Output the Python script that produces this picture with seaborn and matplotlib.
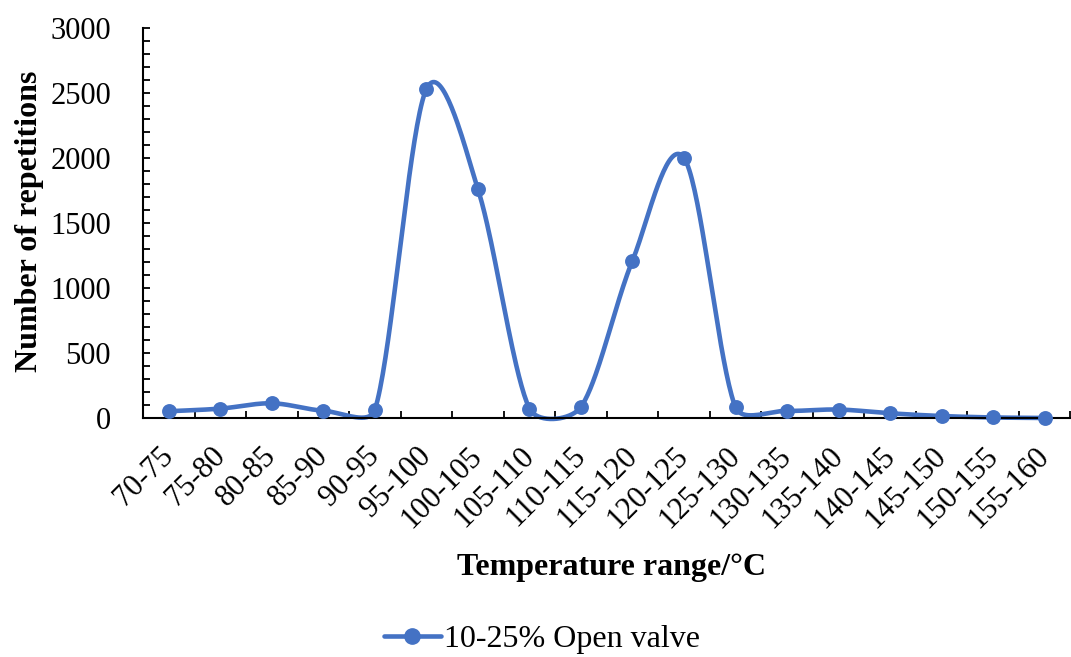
import numpy as np
import pandas as pd
import matplotlib
matplotlib.use("Agg")
import matplotlib.pyplot as plt
import matplotlib.transforms as mtransforms
import seaborn as sns
from matplotlib.lines import Line2D

# data
ranges = ["70-75", "75-80", "80-85", "85-90", "90-95", "95-100", "100-105",
          "105-110", "110-115", "115-120", "120-125", "125-130", "130-135",
          "135-140", "140-145", "145-150", "150-155", "155-160"]
repetitions = [52, 72, 113, 56, 62, 2530, 1760, 72, 85, 1210, 2000, 82,
               55, 65, 36, 15, 4, 0]
series_name = "10-25% Open valve"
blue = "#4472C4"

sns.set_style("white")
plt.rcParams["font.family"] = ["Liberation Serif", "DejaVu Serif"]
plt.rcParams["text.color"] = "black"
plt.rcParams["axes.labelcolor"] = "black"
plt.rcParams["xtick.color"] = "black"
plt.rcParams["ytick.color"] = "black"


def excel_smooth(ax, y, n=40):
    # Excel-style smoothed line: Bezier segments computed in screen space,
    # handles of 1/6 the neighbour chord, capped to a third of the segment
    x = np.arange(len(y), dtype=float)
    p = ax.transData.transform(np.column_stack([x, np.asarray(y, dtype=float)]))
    pts = []
    for i in range(len(p) - 1):
        p0 = p[i - 1] if i > 0 else p[i]
        p1, p2 = p[i], p[i + 1]
        p3 = p[i + 2] if i + 2 < len(p) else p[i + 1]
        d12 = np.hypot(*(p2 - p1))
        d02 = np.hypot(*(p2 - p0))
        d13 = np.hypot(*(p3 - p1))
        f1 = 1 / 6 if d02 / 6 < d12 / 3 else d12 / (3 * d02)
        f2 = 1 / 6 if d13 / 6 < d12 / 3 else d12 / (3 * d13)
        c1 = p1 + (p2 - p0) * f1
        c2 = p2 - (p3 - p1) * f2
        t = np.linspace(0, 1, n)[:, None]
        seg = ((1 - t) ** 3) * p1 + 3 * ((1 - t) ** 2) * t * c1 + 3 * (1 - t) * t ** 2 * c2 + t ** 3 * p2
        pts.append(seg if i == 0 else seg[1:])
    pts = ax.transData.inverted().transform(np.vstack(pts))
    return pts[:, 0], pts[:, 1]


df = pd.DataFrame({"pos": np.arange(len(ranges)), "reps": repetitions})

fig = plt.figure(figsize=(10.71, 6.57), dpi=100)
ax = fig.add_axes([0.1335, 0.3638, 0.866, 0.5936])
ax.set_xlim(-0.5, len(ranges) - 0.5)
ax.set_ylim(0, 3000)

sx, sy = excel_smooth(ax, repetitions)
sns.lineplot(x=sx, y=sy, ax=ax, color=blue, linewidth=3.3, sort=False, estimator=None)
for ln in ax.lines:
    ln.set_clip_on(False)
sns.scatterplot(data=df, x="pos", y="reps", ax=ax, color=blue, s=115, edgecolor=blue,
                linewidth=0, zorder=3, clip_on=False)

ax.set_xlim(-0.5, len(ranges) - 0.5)
ax.set_ylim(0, 3000)
ax.set_yticks(np.arange(0, 3001, 500))
ax.set_yticks(np.arange(0, 3001, 100), minor=True)
ax.set_xticks(np.arange(len(ranges)))
ax.set_xticklabels(ranges, rotation=45, ha="right", va="top", rotation_mode="anchor", fontsize=22)
ax.set_xticks(np.arange(len(ranges) + 1) - 0.5, minor=True)
ax.tick_params(axis="y", which="both", direction="in", length=5, width=1.3, labelsize=22, pad=23, left=True)
ax.tick_params(axis="x", which="major", length=0, pad=17)
ax.tick_params(axis="x", which="minor", direction="in", length=5, width=1.3, bottom=True)
shift = mtransforms.ScaledTranslation(-10 / 100, 0, fig.dpi_scale_trans)
for lab in ax.get_xticklabels():
    lab.set_transform(lab.get_transform() + shift)

for s in ["top", "right"]:
    ax.spines[s].set_visible(False)
for s in ["left", "bottom"]:
    ax.spines[s].set_color("black")
    ax.spines[s].set_linewidth(1.5)

ax.set_xlabel("Temperature range/°C", fontsize=23, fontweight="bold")
ax.set_ylabel("Number of repetitions", fontsize=23, fontweight="bold")
ax.xaxis.set_label_coords(0.505, -0.347)
ax.yaxis.set_label_coords(-0.107, 0.505)

handle = Line2D([0], [0], color=blue, linewidth=3.3, marker="o", markersize=11)
fig.legend([handle], [series_name], loc="center", bbox_to_anchor=(0.506, 0.027),
           frameon=False, fontsize=23, handlelength=1.8, handletextpad=0.1)

fig.savefig("out.png", dpi=100)
